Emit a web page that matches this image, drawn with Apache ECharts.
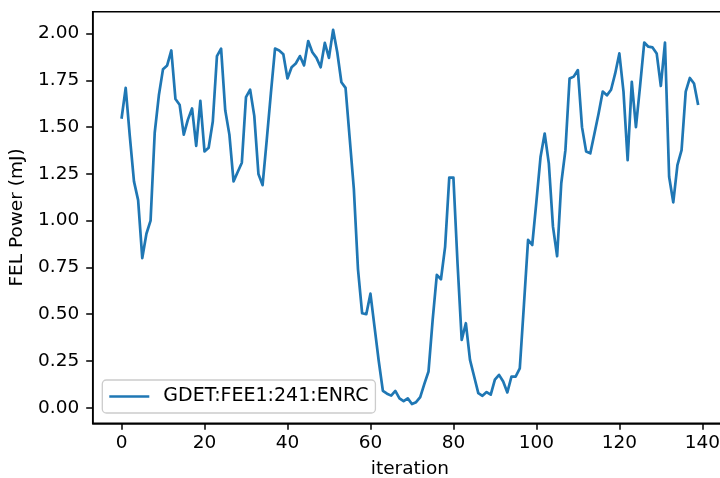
<!DOCTYPE html>
<html>
<head>
<meta charset="utf-8">
<script src="https://cdn.jsdelivr.net/npm/echarts@6/dist/echarts.min.js"></script>
<style>
html,body{margin:0;padding:0;background:#fff;}
#chart{width:720px;height:478px;}
</style>
</head>
<body>
<div id="chart"></div>
<script>
// ---- data ----
const seriesName = 'GDET:FEE1:241:ENRC';
const felPower = [
  1.545, 1.71, 1.45, 1.21, 1.11, 0.80, 0.93, 1.00, 1.47, 1.67,
  1.81, 1.83, 1.91, 1.65, 1.62, 1.46, 1.54, 1.60, 1.40, 1.64,
  1.37, 1.39, 1.53, 1.88, 1.92, 1.59, 1.46, 1.21, 1.26, 1.31,
  1.66, 1.70, 1.56, 1.25, 1.19, 1.43, 1.68, 1.92, 1.91, 1.89,
  1.76, 1.82, 1.84, 1.88, 1.83, 1.96, 1.90, 1.87, 1.82, 1.95,
  1.87, 2.02, 1.90, 1.74, 1.71, 1.44, 1.17, 0.74, 0.505, 0.50,
  0.61, 0.43, 0.25, 0.09, 0.075, 0.065, 0.09, 0.05, 0.035, 0.05,
  0.02, 0.03, 0.057, 0.128, 0.194, 0.47, 0.71, 0.687, 0.86, 1.23,
  1.23, 0.77, 0.363, 0.452, 0.256, 0.167, 0.078, 0.064, 0.084, 0.07,
  0.15, 0.176, 0.14, 0.082, 0.167, 0.167, 0.21, 0.55, 0.897, 0.87,
  1.10, 1.34, 1.466, 1.306, 0.968, 0.81, 1.20, 1.377, 1.76, 1.77,
  1.805, 1.50, 1.37, 1.36, 1.466, 1.573, 1.69, 1.67, 1.70, 1.787,
  1.894, 1.69, 1.324, 1.742, 1.50, 1.72, 1.952, 1.93, 1.926, 1.894,
  1.72, 1.952, 1.235, 1.098, 1.297, 1.377, 1.69, 1.763, 1.733, 1.618
];
const iterations = felPower.map((_, i) => i);
const xTicks = [0, 20, 40, 60, 80, 100, 120, 140];
const yTicks = [0, 0.25, 0.5, 0.75, 1.0, 1.25, 1.5, 1.75, 2.0];
const xLabel = 'iteration';
const yLabel = 'FEL Power (mJ)';

// ---- chart ----
const FONT = 'DejaVu Sans';
const FS = 18.5;
const chart = echarts.init(document.getElementById('chart'), null, {renderer: 'canvas'});
const axisCommon = {
  axisLine: {show: true, onZero: false, lineStyle: {color: '#000', width: 1.5}},
  axisTick: {show: true, length: 6.5, lineStyle: {color: '#000', width: 1.5}},
  splitLine: {show: false},
  nameTextStyle: {fontFamily: FONT, fontSize: FS, color: '#000'}
};
chart.setOption({
  animation: false,
  backgroundColor: '#fff',
  grid: {
    left: 92.7, top: 11.7, right: -7, bottom: 54.7,
    show: true, borderColor: '#000', borderWidth: 1.5, backgroundColor: 'transparent',
    containLabel: false, outerBoundsMode: 'none'
  },
  legend: {
    show: true,
    left: 102.3, top: 380,
    orient: 'horizontal',
    padding: [6, 7, 6, 7],
    backgroundColor: 'rgba(255,255,255,0.8)',
    borderColor: '#cccccc', borderWidth: 1.3, borderRadius: 4,
    icon: 'rect', itemWidth: 40, itemHeight: 2.7,
    textStyle: {fontFamily: FONT, fontSize: 19, color: '#000', lineHeight: 21, padding: [0, 0, 0, 9]},
    data: [seriesName]
  },
  xAxis: Object.assign({}, axisCommon, {
    type: 'value',
    min: -6.95, max: 145.95,
    name: xLabel, nameLocation: 'middle', nameGap: 36,
    axisLabel: {
      customValues: xTicks, margin: 11,
      fontFamily: FONT, fontSize: FS, color: '#000', lineHeight: FS,
      formatter: v => String(v)
    },
    axisTick: Object.assign({}, axisCommon.axisTick, {customValues: xTicks})
  }),
  yAxis: Object.assign({}, axisCommon, {
    type: 'value',
    min: -0.083, max: 2.117,
    name: yLabel, nameLocation: 'middle', nameGap: 61.5, nameRotate: 90,
    axisLabel: {
      customValues: yTicks, margin: 13.5,
      fontFamily: FONT, fontSize: FS, color: '#000',
      formatter: v => v.toFixed(2)
    },
    axisTick: Object.assign({}, axisCommon.axisTick, {customValues: yTicks})
  }),
  series: [{
    name: seriesName,
    type: 'line',
    data: iterations.map((x, i) => [x, felPower[i]]),
    symbol: 'none',
    clip: false,
    color: '#1f77b4',
    lineStyle: {color: '#1f77b4', width: 2.7, join: 'round', cap: 'butt'}
  }]
});
</script>
</body>
</html>
